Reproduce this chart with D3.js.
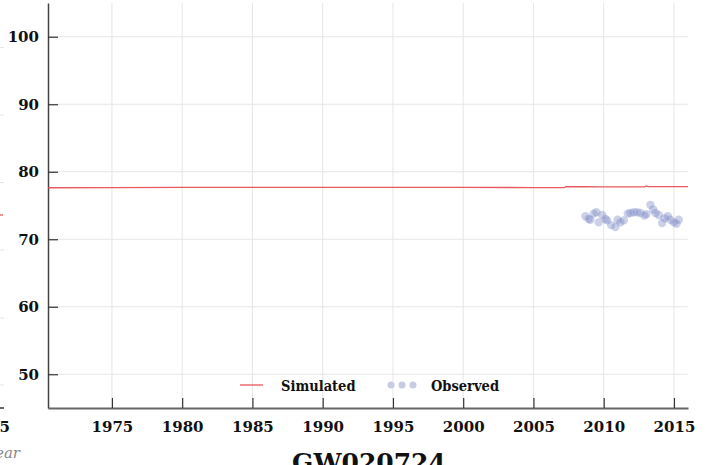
<!DOCTYPE html>
<html>
<head>
<meta charset="utf-8">
<script src="https://cdn.jsdelivr.net/npm/d3@7/dist/d3.min.js"></script>
<style>
  body { margin: 0; background: #fff; }
  svg { display: block; font-family: 'DejaVu Serif', serif; }
  .tick-label { font-weight: bold; font-size: 15px; fill: #111; }
  .legend-label { font-family: 'DejaVu Serif Condensed', 'DejaVu Serif', serif; font-weight: bold; font-size: 14.5px; fill: #111; }
</style>
</head>
<body>
<svg id="chart" width="712" height="465"></svg>
<script>
// data
let simYears = [1970.45, 1975, 1980, 1985, 1990, 1995, 2000, 2005, 2007.2, 2007.3, 2008.5, 2010, 2011.5, 2012.9, 2013.05, 2013.2, 2014, 2016]
let simValues = [77.63, 77.66, 77.68, 77.68, 77.68, 77.68, 77.68, 77.66, 77.64, 77.78, 77.78, 77.75, 77.77, 77.76, 77.9, 77.8, 77.8, 77.8]
let obsYears = [2008.70, 2008.93, 2009.05, 2009.29, 2009.48, 2009.64, 2009.89, 2010.12, 2010.24, 2010.53, 2010.83, 2010.99, 2011.19, 2011.43,
    2011.71, 2011.90, 2012.14, 2012.38, 2012.61, 2012.90, 2013.04, 2013.32, 2013.52, 2013.68, 2013.92, 2014.16, 2014.33, 2014.56,
    2014.75, 2014.99, 2015.18, 2015.34]
let obsValues = [73.4, 73.0, 72.9, 73.8, 74.0, 72.5, 73.6, 73.0, 72.8, 72.1, 71.8, 72.9, 72.5, 72.8,
    73.8, 73.9, 74.0, 74.0, 73.9, 73.5, 73.7, 75.1, 74.4, 73.9, 73.6, 72.4, 73.1, 73.4,
    72.9, 72.5, 72.3, 72.9]
let xTicks = [1975, 1980, 1985, 1990, 1995, 2000, 2005, 2010, 2015]
let yTicks = [50, 60, 70, 80, 90, 100]

let plotLeft = 48, plotRight = 688, plotTop = 3, plotBottom = 408
let svg = d3.select('#chart')

let x = d3.scaleLinear().domain([1970.45, 2016]).range([plotLeft, plotRight])
let y = d3.scaleLinear().domain([45, 105]).range([plotBottom, plotTop])

// stub of the neighbouring chart on the left
let stub = svg.append('g')
;[47.6, 115, 182.6, 250, 318, 385].forEach(v => {
    stub.append('line').attr('x1', 0).attr('x2', 4).attr('y1', v).attr('y2', v)
        .attr('stroke', '#e4e4e4').attr('stroke-width', 1)
})
stub.append('line').attr('x1', 0).attr('x2', 3).attr('y1', 215).attr('y2', 215)
    .attr('stroke', '#e8474f').attr('stroke-width', 1.2)
stub.append('line').attr('x1', 0).attr('x2', 4).attr('y1', plotBottom).attr('y2', plotBottom)
    .attr('stroke', '#666').attr('stroke-width', 2)
stub.append('text').attr('class', 'tick-label').attr('x', -11).attr('y', 432)
    .attr('text-anchor', 'middle').text('2015')
stub.append('text').attr('x', 20).attr('y', 458).attr('text-anchor', 'end')
    .attr('font-style', 'italic').attr('font-size', 15).attr('fill', '#888').text('Year')

// grid
let grid = svg.append('g')
grid.selectAll('.gx').data(xTicks).enter().append('line')
    .attr('x1', d => x(d)).attr('x2', d => x(d)).attr('y1', plotTop).attr('y2', plotBottom)
    .attr('stroke', '#e6e6e6').attr('stroke-width', 1)
grid.selectAll('.gy').data(yTicks).enter().append('line')
    .attr('x1', plotLeft).attr('x2', plotRight).attr('y1', d => y(d)).attr('y2', d => y(d))
    .attr('stroke', '#e6e6e6').attr('stroke-width', 1)

// axes
let xAxis = d3.axisBottom(x).tickValues(xTicks).tickFormat(d3.format('d')).tickSizeInner(-10).tickSizeOuter(0).tickPadding(13)
let gx = svg.append('g').attr('transform', 'translate(0,' + plotBottom + ')').call(xAxis)
gx.select('.domain').attr('stroke', '#666').attr('stroke-width', 2)
gx.selectAll('.tick line').attr('stroke', '#333').attr('stroke-width', 1.2)
gx.selectAll('.tick text').attr('class', 'tick-label').attr('font-family', null).attr('font-size', null).attr('fill', null)
gx.attr('font-family', null).attr('font-size', null)

let yAxis = d3.axisLeft(y).tickValues(yTicks).tickSizeInner(-10).tickSizeOuter(0).tickPadding(9)
let gy = svg.append('g').attr('transform', 'translate(' + plotLeft + ',0)').call(yAxis)
gy.select('.domain').attr('stroke', '#444').attr('stroke-width', 1.5)
gy.selectAll('.tick line').attr('stroke', '#333').attr('stroke-width', 1.2)
gy.selectAll('.tick text').attr('class', 'tick-label').attr('font-family', null).attr('font-size', null).attr('fill', null)
gy.attr('font-family', null).attr('font-size', null)

// simulated
let simData = simYears.map((d, i) => [d, simValues[i]])
let line = d3.line().x(d => x(d[0])).y(d => y(d[1]))
svg.append('path').datum(simData).attr('d', line)
    .attr('fill', 'none').attr('stroke', '#e8474f').attr('stroke-width', 1.3).attr('opacity', 0.9)

// observed
svg.append('g').selectAll('circle').data(obsYears).enter().append('circle')
    .attr('cx', d => x(d)).attr('cy', (d, i) => y(obsValues[i])).attr('r', 4.2)
    .attr('fill', '#7a86c4').attr('opacity', 0.38)

// legend
let lg = svg.append('g')
lg.append('line').attr('x1', 240).attr('x2', 263).attr('y1', 385).attr('y2', 385)
    .attr('stroke', '#e8474f').attr('stroke-width', 1.2)
lg.append('text').attr('class', 'legend-label').attr('x', 281).attr('y', 390.5).text('Simulated')
lg.selectAll('circle').data([391, 402, 413]).enter().append('circle')
    .attr('cx', d => d).attr('cy', 385).attr('r', 3.5).attr('fill', '#c7cbe4')
lg.append('text').attr('class', 'legend-label').attr('x', 431).attr('y', 390.5).text('Observed')

// title
svg.append('text').attr('x', 369).attr('y', 471).attr('text-anchor', 'middle')
    .attr('font-weight', 'bold').attr('font-size', 25).attr('fill', '#111').text('GW020724')
</script>
</body>
</html>
